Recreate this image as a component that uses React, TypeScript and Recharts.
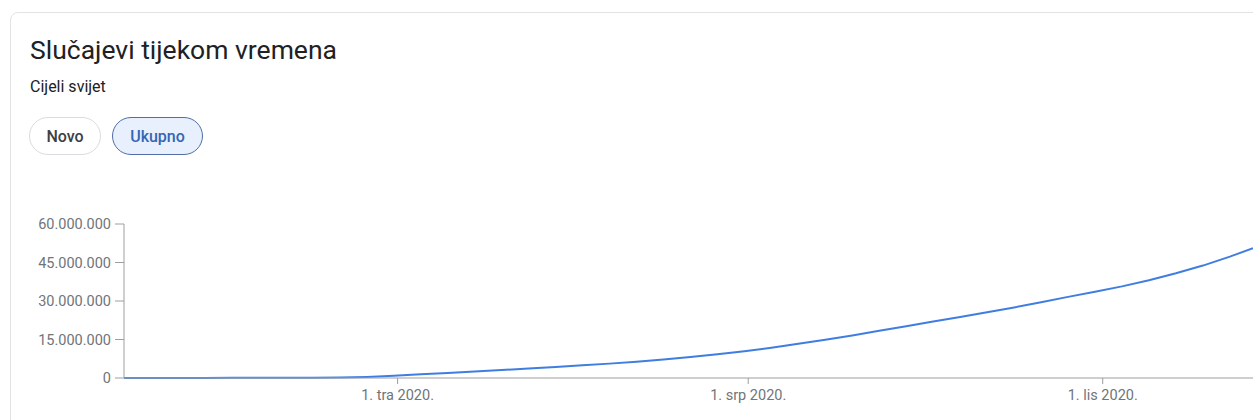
import React from "react";
import { Line, LineChart, XAxis, YAxis } from "recharts";

// Ukupni broj slučajeva (svijet), tjedne točke očitane s grafa
const dates = [
  "2020-01-21", "2020-01-28", "2020-02-04", "2020-02-11", "2020-02-18", "2020-02-25",
  "2020-03-03", "2020-03-10", "2020-03-17", "2020-03-24", "2020-03-31", "2020-04-07",
  "2020-04-14", "2020-04-21", "2020-04-28", "2020-05-05", "2020-05-12", "2020-05-19",
  "2020-05-26", "2020-06-02", "2020-06-09", "2020-06-16", "2020-06-23", "2020-06-30",
  "2020-07-07", "2020-07-14", "2020-07-21", "2020-07-28", "2020-08-04", "2020-08-11",
  "2020-08-18", "2020-08-25", "2020-09-01", "2020-09-08", "2020-09-15", "2020-09-22",
  "2020-09-29", "2020-10-06", "2020-10-13", "2020-10-20", "2020-10-27", "2020-11-03",
  "2020-11-09",
];
const cases = [
  300, 4600, 24500, 45000, 75000, 80000,
  92000, 118000, 198000, 420000, 860000, 1430000,
  1980000, 2550000, 3100000, 3700000, 4300000, 4930000,
  5600000, 6350000, 7200000, 8150000, 9250000, 10450000,
  11800000, 13300000, 14900000, 16600000, 18400000, 20200000,
  22000000, 23800000, 25600000, 27500000, 29500000, 31600000,
  33600000, 35700000, 38100000, 40800000, 43800000, 47300000,
  50600000,
];
const xTickDates = ["2020-04-01", "2020-07-01", "2020-10-01"];
const xTickLabels = ["1. tra 2020.", "1. srp 2020.", "1. lis 2020."];
const yTicks = [0, 15000000, 30000000, 45000000, 60000000];

const ts = (d: string) => Date.parse(d + "T00:00:00Z");
const data = dates.map((d, i) => ({ t: ts(d), v: cases[i] }));
const xTicks = xTickDates.map(ts);

const fmtNum = (v: number) =>
  String(Math.round(v)).replace(/\B(?=(\d{3})+(?!\d))/g, ".");
const fmtDate = (v: number) => {
  const i = xTicks.indexOf(v);
  return i >= 0 ? xTickLabels[i] : "";
};

const font = "Roboto, Arial, sans-serif";
const tickStyle = { fill: "#70757a", fontSize: 14.5, fontFamily: font };

const pill = {
  position: "absolute" as const,
  top: 117,
  height: 36,
  borderRadius: 19,
  display: "flex",
  alignItems: "center",
  justifyContent: "center",
  fontSize: 16,
  fontWeight: 500,
};

export default function App() {
  return (
    <div
      style={{
        position: "fixed",
        left: 0,
        top: 0,
        width: 1253,
        height: 420,
        overflow: "hidden",
        fontFamily: font,
        background: "#fff",
      }}
    >
      <div
        style={{
          position: "absolute",
          left: 10,
          top: 12,
          width: 1300,
          height: 440,
          border: "1px solid #e3e3e3",
          borderRadius: 8,
        }}
      />
      <div
        style={{
          position: "absolute",
          left: 30,
          top: 34,
          fontSize: 26.5,
          color: "#202124",
          whiteSpace: "nowrap",
        }}
      >
        Slučajevi tijekom vremena
      </div>
      <div style={{ position: "absolute", left: 30, top: 77, fontSize: 16, color: "#202124" }}>
        Cijeli svijet
      </div>
      <div style={{ ...pill, left: 29, width: 70, border: "1px solid #dadce0", color: "#3c4043" }}>
        Novo
      </div>
      <div
        style={{
          ...pill,
          left: 112,
          width: 89,
          border: "1px solid #4f6fa6",
          background: "#e8f0fe",
          color: "#3565b5",
        }}
      >
        Ukupno
      </div>
      <div style={{ position: "absolute", left: 8, top: 200 }}>
        <LineChart
          width={1245}
          height={212}
          data={data}
          margin={{ top: 24, right: 0, bottom: 0, left: 0 }}
        >
          <XAxis
            dataKey="t"
            type="number"
            scale="time"
            domain={[ts("2020-01-21"), ts("2020-11-09")]}
            ticks={xTicks}
            tickFormatter={fmtDate}
            tick={tickStyle}
            tickSize={6}
            tickMargin={6}
            height={34}
            stroke="#9e9e9e"
            allowDataOverflow
          />
          <YAxis
            domain={[0, 60000000]}
            ticks={yTicks}
            tickFormatter={fmtNum}
            tick={tickStyle}
            tickSize={9}
            tickMargin={4}
            width={116}
            stroke="#9e9e9e"
          />
          <Line
            type="linear"
            dataKey="v"
            stroke="#3f7ee0"
            strokeWidth={2}
            dot={false}
            isAnimationActive={false}
          />
        </LineChart>
      </div>
    </div>
  );
}
